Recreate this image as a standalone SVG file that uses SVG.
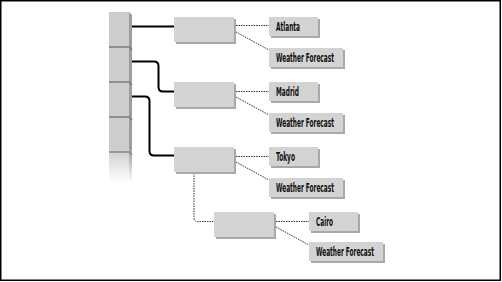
<svg xmlns="http://www.w3.org/2000/svg" width="502" height="282" viewBox="0 0 502 282">
<style>
.box{fill:#d3d3d3}
.shd{fill:#a9a9a9}
.lbl{font-family:"Liberation Sans Narrow","DejaVu Sans Condensed","Liberation Sans",sans-serif;font-weight:bold;font-size:13px;fill:#111}
.solid{fill:none;stroke:#000;stroke-width:2}
.dot{fill:none;stroke:#333;stroke-width:1;stroke-dasharray:1.5,1}
.sep{fill:none;stroke:#7a7a7a;stroke-width:1.5}
</style>
<defs>
<linearGradient id="fade" gradientUnits="userSpaceOnUse" x1="0" y1="12" x2="0" y2="183">
<stop offset="0.8" stop-color="#fff" stop-opacity="1"/>
<stop offset="1" stop-color="#fff" stop-opacity="0"/>
</linearGradient>
<mask id="stackMask"><rect x="100" y="0" width="50" height="200" fill="url(#fade)"/></mask>
</defs>
<rect x="0.75" y="0.75" width="499.5" height="279.5" fill="#fff" stroke="#000" stroke-width="1.5"/>
<g id="stack" mask="url(#stackMask)">
<rect x="109" y="12" width="20" height="171" fill="#cdcdcd"/>
<polygon points="129,12 132,15 132,183 129,183" fill="#9c9c9c"/>
<path class="sep" d="M109,47 H129 L132,50 M109,82 H129 L132,85 M109,117 H129 L132,120 M109,152 H129 L132,155"/>
</g>
<g id="connectors">
<path class="solid" d="M132,26.5 H174"/>
<path class="solid" d="M132,61.5 H154 Q158.5,61.5 158.5,66 V87 Q158.5,91.5 163,91.5 H174"/>
<path class="solid" d="M132,96.5 H145 Q149.5,96.5 149.5,101 V151 Q149.5,155.5 154,155.5 H174"/>
<path class="dot" d="M236,25.5 H269 M236,32 L269,50"/>
<path class="dot" d="M236,91.5 H269 M236,97 L269,115"/>
<path class="dot" d="M236,156.5 H269 M236,162 L269,180"/>
<path class="dot" d="M276,221.5 H309 M276,227 L309,245"/>
<path class="dot" d="M194,173 V218 Q194,221.5 197.5,221.5 H214"/>
</g>
<g id="node-1"><rect class="shd" x="176" y="19" width="60" height="25"/><rect class="box" x="174" y="17" width="60" height="25"/></g>
<g id="node-2"><rect class="shd" x="176" y="84" width="60" height="25"/><rect class="box" x="174" y="82" width="60" height="25"/></g>
<g id="node-3"><rect class="shd" x="176" y="149" width="60" height="25"/><rect class="box" x="174" y="147" width="60" height="25"/></g>
<g id="node-4"><rect class="shd" x="216" y="214" width="60" height="25"/><rect class="box" x="214" y="212" width="60" height="25"/></g>
<g id="atlanta"><rect class="shd" x="271" y="19" width="49" height="19"/><rect class="box" x="269" y="17" width="49" height="19"/><text class="lbl" x="276" y="31" textLength="24" lengthAdjust="spacingAndGlyphs">Atlanta</text></g>
<g id="wf-1"><rect class="shd" x="271" y="50" width="74" height="19"/><rect class="box" x="269" y="48" width="74" height="19"/><text class="lbl" x="276" y="62" textLength="58" lengthAdjust="spacingAndGlyphs">Weather Forecast</text></g>
<g id="madrid"><rect class="shd" x="271" y="84" width="49" height="19"/><rect class="box" x="269" y="82" width="49" height="19"/><text class="lbl" x="276" y="96" textLength="23" lengthAdjust="spacingAndGlyphs">Madrid</text></g>
<g id="wf-2"><rect class="shd" x="271" y="115" width="74" height="19"/><rect class="box" x="269" y="113" width="74" height="19"/><text class="lbl" x="276" y="127" textLength="58" lengthAdjust="spacingAndGlyphs">Weather Forecast</text></g>
<g id="tokyo"><rect class="shd" x="271" y="149" width="49" height="19"/><rect class="box" x="269" y="147" width="49" height="19"/><text class="lbl" x="276" y="161" textLength="19" lengthAdjust="spacingAndGlyphs">Tokyo</text></g>
<g id="wf-3"><rect class="shd" x="271" y="180" width="74" height="19"/><rect class="box" x="269" y="178" width="74" height="19"/><text class="lbl" x="276" y="192" textLength="58" lengthAdjust="spacingAndGlyphs">Weather Forecast</text></g>
<g id="cairo"><rect class="shd" x="311" y="214" width="49" height="19"/><rect class="box" x="309" y="212" width="49" height="19"/><text class="lbl" x="316" y="226" textLength="17" lengthAdjust="spacingAndGlyphs">Cairo</text></g>
<g id="wf-4"><rect class="shd" x="311" y="244" width="74" height="19"/><rect class="box" x="309" y="242" width="74" height="19"/><text class="lbl" x="316" y="256" textLength="58" lengthAdjust="spacingAndGlyphs">Weather Forecast</text></g>
</svg>
